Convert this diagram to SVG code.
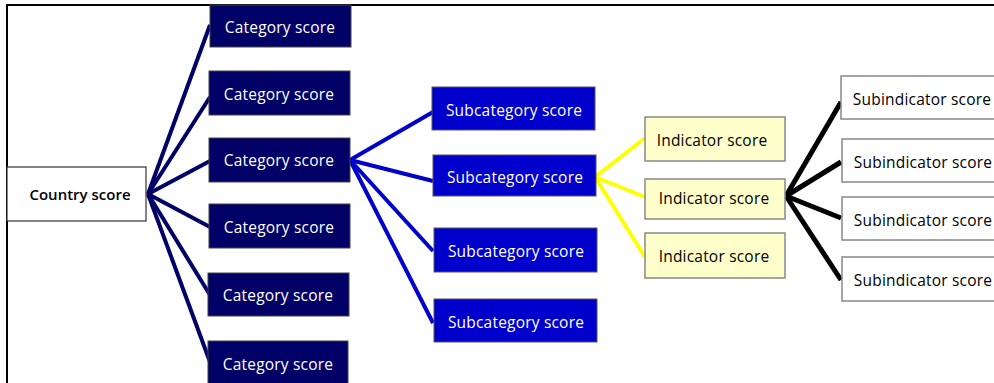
<svg xmlns="http://www.w3.org/2000/svg" width="994" height="383" viewBox="0 0 994 383">
<style>
text{font-family:"Open Sans","Noto Sans","Liberation Sans",sans-serif;text-anchor:middle;dominant-baseline:central;font-size:15.5px;letter-spacing:0.2px}
.cat rect{fill:#000066;stroke:#444;stroke-width:1}
.cat text{fill:#fff}
.sub rect{fill:#0000cc;stroke:#555;stroke-width:1}
.sub text{fill:#fff}
.ind rect{fill:#ffffcc;stroke:#888;stroke-width:1.5}
.ind text{fill:#000}
.si rect{fill:#fff;stroke:#888;stroke-width:1.5}
.si text{fill:#000}
.ctry rect{fill:#fff;stroke:#333;stroke-width:1.2}
.ctry text{fill:#000;font-size:15px;font-weight:600;letter-spacing:0}
.l1{stroke:#000066;stroke-width:4;fill:none}
.l2{stroke:#0000cc;stroke-width:4;fill:none}
.l3{stroke:#ffff00;stroke-width:4;fill:none}
.l4{stroke:#000;stroke-width:5;fill:none}
</style>
<rect x="0" y="0" width="994" height="383" fill="#fff"/>
<path d="M7,383 V5 H994" stroke="#000" stroke-width="2" fill="none"/>
<g id="connectors">
<line class="l1" x1="148" y1="194" x2="210" y2="25"/>
<line class="l1" x1="148" y1="194" x2="210" y2="97"/>
<line class="l1" x1="148" y1="194" x2="210" y2="161"/>
<line class="l1" x1="148" y1="194" x2="210" y2="227"/>
<line class="l1" x1="148" y1="194" x2="210" y2="295"/>
<line class="l1" x1="148" y1="194" x2="210" y2="362"/>
<line class="l2" x1="350" y1="160" x2="433" y2="112"/>
<line class="l2" x1="350" y1="160" x2="433" y2="181"/>
<line class="l2" x1="350" y1="160" x2="433" y2="251"/>
<line class="l2" x1="350" y1="160" x2="433" y2="323"/>
<line class="l3" x1="595" y1="177" x2="645" y2="138"/>
<line class="l3" x1="595" y1="177" x2="645" y2="197"/>
<line class="l3" x1="595" y1="177" x2="645" y2="257"/>
<line class="l4" x1="786" y1="196" x2="841" y2="102"/>
<line class="l4" x1="786" y1="196" x2="841" y2="162"/>
<line class="l4" x1="786" y1="196" x2="841" y2="218"/>
<line class="l4" x1="786" y1="196" x2="841" y2="280"/>
</g>
<g id="country" class="ctry"><rect x="7" y="167" width="139" height="54"/><text x="80" y="194">Country score</text></g>
<g id="cat1" class="cat"><rect x="210" y="5" width="141" height="42"/><text x="280" y="27">Category score</text></g>
<g id="cat2" class="cat"><rect x="209" y="71" width="141" height="44"/><text x="279" y="94">Category score</text></g>
<g id="cat3" class="cat"><rect x="209" y="138" width="141" height="44"/><text x="279" y="160">Category score</text></g>
<g id="cat4" class="cat"><rect x="209" y="204" width="141" height="44"/><text x="279" y="227">Category score</text></g>
<g id="cat5" class="cat"><rect x="208" y="273" width="141" height="43"/><text x="278" y="295">Category score</text></g>
<g id="cat6" class="cat"><rect x="208" y="341" width="140" height="50"/><text x="278" y="364">Category score</text></g>
<g id="sub1" class="sub"><rect x="432" y="87" width="163" height="43"/><text x="514" y="110">Subcategory score</text></g>
<g id="sub2" class="sub"><rect x="433" y="155" width="163" height="41"/><text x="515" y="177">Subcategory score</text></g>
<g id="sub3" class="sub"><rect x="434" y="228" width="163" height="44"/><text x="516" y="251">Subcategory score</text></g>
<g id="sub4" class="sub"><rect x="434" y="299" width="163" height="43"/><text x="516" y="322">Subcategory score</text></g>
<g id="ind1" class="ind"><rect x="645" y="117" width="140" height="44"/><text x="712" y="140">Indicator score</text></g>
<g id="ind2" class="ind"><rect x="645" y="179" width="140" height="40"/><text x="714" y="198">Indicator score</text></g>
<g id="ind3" class="ind"><rect x="645" y="233" width="140" height="45"/><text x="714" y="256">Indicator score</text></g>
<g id="si1" class="si"><rect x="841" y="76" width="160" height="43"/><text x="922" y="99">Subindicator score</text></g>
<g id="si2" class="si"><rect x="842" y="139" width="160" height="43"/><text x="923" y="162">Subindicator score</text></g>
<g id="si3" class="si"><rect x="842" y="197" width="160" height="43"/><text x="923" y="220">Subindicator score</text></g>
<g id="si4" class="si"><rect x="842" y="257" width="160" height="44"/><text x="923" y="280">Subindicator score</text></g>
</svg>
